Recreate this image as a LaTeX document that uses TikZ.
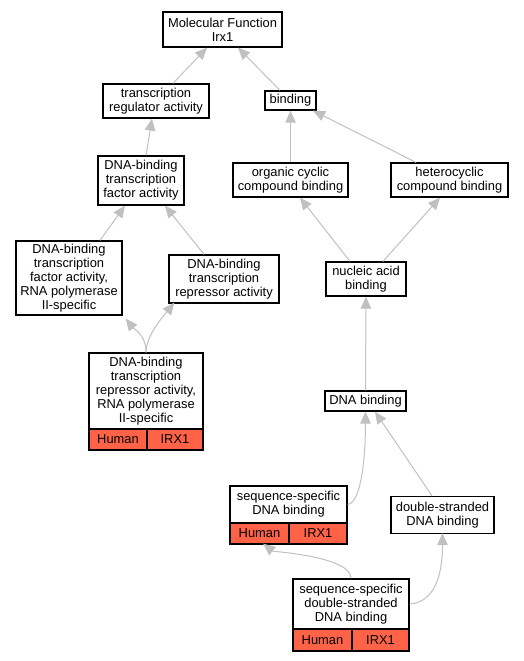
\documentclass[tikz,border=0pt]{standalone}
\usepackage{fontspec}
\setmainfont{Liberation Sans}
\usetikzlibrary{arrows.meta}
\definecolor{edgegray}{RGB}{192,192,192}
\definecolor{cellred}{RGB}{255,99,71}
\begin{document}
\begin{tikzpicture}[x=1pt,y=-1pt,
  gobox/.style={draw=black,line width=1.3pt,fill=white,inner sep=0pt,align=center,
    font=\fontsize{12.9}{14}\selectfont},
  cell/.style={gobox,fill=cellred},
  edge/.style={draw=edgegray,line width=1pt,-{Triangle[length=12pt,width=10.5pt]}}]
\useasboundingbox (0,0) rectangle (524,661);
% nodes
\node[gobox,minimum width=119pt,minimum height=35pt] (n1) at (222.5,29.5) {Molecular Function\\Irx1};
\node[gobox,minimum width=106pt,minimum height=34pt] (n2) at (156,101) {transcription\\regulator activity};
\node[gobox,minimum width=51pt,minimum height=19pt] (n3) at (290.5,100.5) {binding};
\node[gobox,minimum width=86pt,minimum height=49pt] (n4) at (141,180.5) {DNA-binding\\transcription\\factor activity};
\node[gobox,minimum width=115pt,minimum height=34pt] (n5) at (290.5,180) {organic cyclic\\compound binding};
\node[gobox,minimum width=117pt,minimum height=34pt] (n6) at (449.5,180) {heterocyclic\\compound binding};
\node[gobox,minimum width=106pt,minimum height=74pt] (n7) at (69,278) {DNA-binding\\transcription\\factor activity,\\RNA polymerase\\II-specific};
\node[gobox,minimum width=110pt,minimum height=48pt] (n8) at (224,279) {DNA-binding\\transcription\\repressor activity};
\node[gobox,minimum width=80pt,minimum height=34pt] (n9) at (366,279) {nucleic acid\\binding};
\node[gobox,minimum width=81pt,minimum height=20pt] (n10) at (365.5,401) {DNA binding};
\node[gobox,minimum width=114pt,minimum height=76pt] (n11) at (146,391) {DNA-binding\\transcription\\repressor activity,\\RNA polymerase\\II-specific};
\node[cell,minimum width=58pt,minimum height=21pt] (n11a) at (118,439.5) {Human};
\node[cell,minimum width=56pt,minimum height=21pt] (n11b) at (175,439.5) {IRX1};
\node[gobox,minimum width=117pt,minimum height=37pt] (n12) at (288.5,504.5) {sequence-specific\\DNA binding};
\node[cell,minimum width=59pt,minimum height=21pt] (n12a) at (259.5,533.5) {Human};
\node[cell,minimum width=58pt,minimum height=21pt] (n12b) at (318,533.5) {IRX1};
\node[gobox,minimum width=103pt,minimum height=37pt] (n13) at (442.5,515) {double-stranded\\DNA binding};
\node[gobox,minimum width=116pt,minimum height=50pt] (n14) at (351,604) {sequence-specific\\double-stranded\\DNA binding};
\node[cell,minimum width=59pt,minimum height=22pt] (n14a) at (322.5,640) {Human};
\node[cell,minimum width=57pt,minimum height=22pt] (n14b) at (380.5,640) {IRX1};
% edges
\draw[edge] ([xshift=17pt]n2.north) -- ([xshift=-15.5pt]n1.south);
\draw[edge] ([xshift=-10.5pt]n3.north) -- ([xshift=15.5pt]n1.south);
\draw[edge] ([xshift=5pt]n4.north) -- ([xshift=-4pt]n2.south);
\draw[edge] (n5.north) -- (n3.south);
\draw[edge] ([xshift=-33.5pt]n6.north) -- ([xshift=22.5pt]n3.south);
\draw[edge] ([xshift=31pt]n7.north) -- ([xshift=-16pt]n4.south);
\draw[edge] ([xshift=-20pt]n8.north) -- ([xshift=24pt]n4.south);
\draw[edge] ([xshift=-16pt]n9.north) -- ([xshift=9.5pt]n5.south);
\draw[edge] ([xshift=17pt]n9.north) -- ([xshift=-9.5pt]n6.south);
\draw[edge] (n10.north) -- (n9.south);
\draw[edge] (n11.north) .. controls +(0,-18) and +(8,10) .. ([xshift=3pt,yshift=-3pt]n7.south east);
\draw[edge] (n11.north) .. controls +(0,-18) and +(-8,10) .. ([xshift=6pt,yshift=1pt]n8.south west);
\draw[edge] (n12.east) .. controls +(16,-2) and +(0,30) .. (n10.south);
\draw[edge] ([xshift=-10.5pt]n13.north) -- ([xshift=9.5pt]n10.south);
\draw[edge] (n14.north) .. controls +(0,-22) and +(10,8) .. ([xshift=-26.5pt,yshift=1pt]n12a.south east);
\draw[edge] (n14.east) .. controls +(30,-2) and +(0,30) .. ([yshift=1pt]n13.south);
\end{tikzpicture}
\end{document}
